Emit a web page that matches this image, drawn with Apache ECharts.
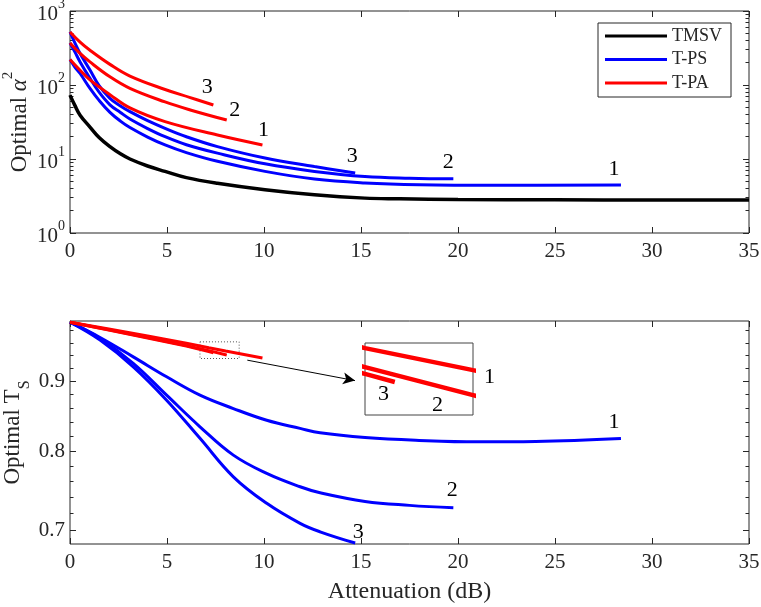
<!DOCTYPE html>
<html>
<head>
<meta charset="utf-8">
<script src="https://cdn.jsdelivr.net/npm/echarts@6/dist/echarts.min.js"></script>
<style>
    html, body { margin: 0; padding: 0; background: #fff; }
    #main { width: 761px; height: 607px; }
</style>
</head>
<body>
<div id="main"></div>
<script>
    // ---- top panel: optimal alpha^2 (log axis) ----
    var tmsvX = [0, 0.25, 0.52, 1.03, 1.5, 2.06, 2.6, 3.09, 4, 4.9, 6, 7.6, 10.05, 12.6, 15.2, 17, 20, 25, 30, 35];
    var tmsvA = [73, 53, 39, 27, 19.5, 14.7, 11.75, 10.0, 8.04, 6.8, 5.6, 4.7, 3.84, 3.28, 2.96, 2.9, 2.83, 2.81, 2.8, 2.8];

    var ps1X = [0, 0.25, 0.52, 1.03, 1.5, 2.06, 2.6, 3.09, 4, 4.9, 6, 7.6, 10.05, 12.6, 15.2, 18, 22, 28.4];
    var ps1A = [221, 175, 143, 90, 62, 42.7, 32.5, 26.6, 19.8, 15.5, 12.2, 9.3, 6.8, 5.35, 4.75, 4.5, 4.43, 4.45];
    var ps2X = [0, 0.25, 0.52, 1.03, 1.5, 2.06, 2.6, 3.09, 4, 4.9, 6, 7.6, 10.05, 12.6, 15.2, 17.5, 19.76];
    var ps2A = [370, 280, 205, 123, 80, 54, 42.5, 34.7, 25.8, 20, 15.6, 12, 8.6, 6.8, 5.8, 5.5, 5.4];
    var ps3X = [0, 0.25, 0.52, 1.03, 1.5, 2.06, 2.6, 3.09, 4, 4.9, 6, 7.6, 10.05, 12.6, 14.7];
    var ps3A = [521, 370, 267, 159, 98, 66, 52, 43.6, 33, 26, 20, 14.7, 10.3, 7.9, 6.45];

    var pa1X = [0, 0.52, 1.03, 2.06, 3.09, 4.9, 7.6, 9.92];
    var pa1A = [221, 158, 117, 74, 49, 32, 21.1, 15.5];
    var pa2X = [0, 0.52, 1.03, 2.06, 3.09, 4.9, 6.2, 8.08];
    var pa2A = [370, 267, 205, 129, 90, 59, 46, 33.6];
    var pa3X = [0, 0.52, 1.03, 2.06, 3.09, 4.9, 6.2, 7.39];
    var pa3A = [521, 380, 295, 190, 132, 87, 67.6, 53.6];

    // ---- bottom panel: optimal Ts (log axis) ----
    var ps1TX = [0, 1.55, 3.26, 4.98, 6.70, 8.42, 10.14, 11.86, 12.89, 15.21, 18, 21, 24, 28.4];
    var ps1T = [0.994, 0.9687, 0.9376, 0.9066, 0.8790, 0.8594, 0.8426, 0.8311, 0.8249, 0.8184, 0.8145, 0.8125, 0.813, 0.817];
    var ps2TX = [0, 1.55, 3.26, 4.98, 6.70, 8.42, 10.14, 11.86, 12.89, 15.21, 17.5, 19.76];
    var ps2T = [0.994, 0.9671, 0.9273, 0.879, 0.8334, 0.7945, 0.7704, 0.7533, 0.7457, 0.7349, 0.730, 0.727];
    var ps3TX = [0, 1.55, 3.26, 4.98, 6.70, 8.42, 10.14, 11.86, 12.89, 14.7];
    var ps3T = [0.994, 0.9644, 0.922, 0.8716, 0.8173, 0.766, 0.7325, 0.7082, 0.6982, 0.6851];

    var pa1TX = [0, 2, 4, 6, 7.15, 8.02, 9.92];
    var pa1T = [0.994, 0.9827, 0.9713, 0.9594, 0.952, 0.9468, 0.9357];
    var pa2TX = [0, 2, 4, 6, 7.15, 8.02, 8.08];
    var pa2T = [0.994, 0.9815, 0.9686, 0.9555, 0.9475, 0.9409, 0.9404];
    var pa3TX = [0, 2, 4, 6, 7.15, 7.39];
    var pa3T = [0.994, 0.981, 0.968, 0.9547, 0.9459, 0.944];

    // ticks
    var alphaMajor = [1, 10, 100, 1000];
    var alphaMinor = [2, 3, 4, 5, 6, 7, 8, 9, 20, 30, 40, 50, 60, 70, 80, 90, 200, 300, 400, 500, 600, 700, 800, 900];
    var tsMajor = [0.7, 0.8, 0.9];
    var tsMinor = [0.72, 0.74, 0.76, 0.78, 0.82, 0.84, 0.86, 0.88, 0.92, 0.94, 0.96, 0.98];

    var FONT = '"Liberation Serif", "DejaVu Serif", serif';
    var AXC = '#262626';

    function zip(xs, ys) {
        var out = [];
        for (var i = 0; i < xs.length; i++) {
            out.push([xs[i], ys[i]]);
        }
        return out;
    }

    function xAx(grid, pos, showLabel, name) {
        return {
            type: 'value', gridIndex: grid, position: pos, min: 0, max: 35, interval: 5,
            name: name || '', nameLocation: 'middle', nameGap: 36, nameMoveOverlap: false,
            nameTextStyle: {fontFamily: FONT, fontSize: 24, color: AXC},
            axisLine: {show: false},
            axisTick: {show: true, inside: true, length: 6, lineStyle: {color: AXC}},
            axisLabel: {show: showLabel, margin: 8, fontFamily: FONT, fontSize: 21, color: AXC},
            splitLine: {show: false}
        };
    }

    function yAx(grid, pos, min, max, ticks, len, label, name, rich, gap) {
        return {
            type: 'log', logBase: 10, gridIndex: grid, position: pos, min: min, max: max,
            name: name || '', nameLocation: 'middle', nameGap: gap || 40, nameRotate: 90,
            nameMoveOverlap: false,
            nameTextStyle: {fontFamily: FONT, fontSize: 23, color: AXC, rich: rich || {}},
            axisLine: {show: false},
            axisTick: {show: true, inside: true, length: len, customValues: ticks, lineStyle: {color: AXC}},
            axisLabel: label ? label : {show: false},
            splitLine: {show: false}
        };
    }

    var alphaLabel = {
        show: true, customValues: alphaMajor, margin: 5, fontFamily: FONT, color: AXC,
        formatter: function (v) {
            return '{b|10}{s|' + Math.round(Math.log(v) / Math.LN10) + '}';
        },
        rich: {
            b: {fontFamily: FONT, fontSize: 21, color: AXC, lineHeight: 28, verticalAlign: 'bottom'},
            s: {fontFamily: FONT, fontSize: 14, color: AXC, lineHeight: 14, verticalAlign: 'top'}
        }
    };
    var tsLabel = {
        show: true, customValues: tsMajor, margin: 5, fontFamily: FONT, fontSize: 21, color: AXC,
        formatter: function (v) { return v.toFixed(1); }
    };

    function line(name, data, color, xi, yi, w, lbl, off) {
        var s = {
            name: name, type: 'line', xAxisIndex: xi, yAxisIndex: yi, data: data,
            showSymbol: false, symbol: 'none', smooth: 0.4,
            lineStyle: {color: color, width: w}, itemStyle: {color: color},
            clip: true, silent: true
        };
        if (lbl) {
            s.endLabel = {
                show: true, formatter: lbl, color: '#000', fontFamily: FONT, fontSize: 22,
                align: 'center', verticalAlign: 'middle', distance: 0, offset: off
            };
        }
        return s;
    }

    var myChart = echarts.init(document.getElementById('main'), null, {renderer: 'canvas'});

    var series = [
        line('TMSV', zip(tmsvX, tmsvA), '#000000', 0, 0, 3.5),
        line('T-PS', zip(ps1X, ps1A), '#0000FF', 0, 0, 3, '1', [-7, -16]),
        line('T-PS', zip(ps2X, ps2A), '#0000FF', 0, 0, 3, '2', [-5, -17]),
        line('T-PS', zip(ps3X, ps3A), '#0000FF', 0, 0, 3, '3', [-3, -17]),
        line('T-PA', zip(pa1X, pa1A), '#FF0000', 0, 0, 3, '1', [1, -15]),
        line('T-PA', zip(pa2X, pa2A), '#FF0000', 0, 0, 3, '2', [8, -10]),
        line('T-PA', zip(pa3X, pa3A), '#FF0000', 0, 0, 3, '3', [-6, -18]),

        line('T-PS', zip(ps1TX, ps1T), '#0000FF', 2, 4, 3, '1', [-7, -16]),
        line('T-PS', zip(ps2TX, ps2T), '#0000FF', 2, 4, 3, '2', [-1, -18]),
        line('T-PS', zip(ps3TX, ps3T), '#0000FF', 2, 4, 3, '3', [3, -11]),
        line('T-PA', zip(pa3TX, pa3T), '#FF0000', 2, 4, 3),
        line('T-PA', zip(pa2TX, pa2T), '#FF0000', 2, 4, 3),
        line('T-PA', zip(pa1TX, pa1T), '#FF0000', 2, 4, 3),

        // inset
        line('T-PA', zip(pa1TX, pa1T), '#FF0000', 4, 8, 4.5),
        line('T-PA', zip(pa2TX, pa2T), '#FF0000', 4, 8, 4.5),
        line('T-PA', zip(pa3TX, pa3T), '#FF0000', 4, 8, 4.5)
    ];

    // dotted zoom box and arrow to the inset
    series[12].markArea = {
        silent: true,
        itemStyle: {color: 'rgba(0,0,0,0)', borderColor: '#555', borderWidth: 1, borderType: [1, 2]},
        data: [[{coord: [6.7, 0.9616]}, {coord: [8.72, 0.935]}]]
    };
    series[12].markLine = {
        silent: true, symbol: ['none', 'arrow'], symbolSize: [9, 12],
        lineStyle: {color: '#000', width: 1, type: 'solid'},
        label: {show: false},
        data: [[{coord: [9.14, 0.9324]}, {coord: [14.69, 0.9008]}]]
    };
    for (var k = 10; k < 16; k++) {
        series[k].smooth = false;
        if (k >= 13) {
            series[k].z = 6;
        }
    }

    var option = {
        animation: false,
        backgroundColor: '#fff',
        textStyle: {fontFamily: FONT},
        grid: [
            {left: 70, right: 12, top: 11, height: 222, outerBoundsMode: 'none', containLabel: false,
                show: true, borderColor: AXC, borderWidth: 1, backgroundColor: 'transparent'},
            {left: 70, right: 12, top: 321, height: 223, outerBoundsMode: 'none', containLabel: false,
                show: true, borderColor: AXC, borderWidth: 1, backgroundColor: 'transparent'},
            {left: 365, top: 343, width: 108, height: 72, outerBoundsMode: 'none', containLabel: false,
                show: true, borderColor: '#444', borderWidth: 1, backgroundColor: 'transparent'}
        ],
        legend: {
            data: ['TMSV', 'T-PS', 'T-PA'],
            orient: 'vertical', left: 598, top: 23,
            padding: [4, 9, 5, 7], itemGap: 5.5,
            itemWidth: 62, itemHeight: 3, icon: 'rect',
            backgroundColor: '#fff', borderColor: AXC, borderWidth: 1, borderRadius: 0,
            textStyle: {fontFamily: FONT, fontSize: 18, color: AXC},
            selectedMode: false
        },
        xAxis: [
            xAx(0, 'bottom', true),
            xAx(0, 'top', false),
            xAx(1, 'bottom', true, 'Attenuation (dB)'),
            xAx(1, 'top', false),
            {type: 'value', gridIndex: 2, min: 7.15, max: 8.02, show: false}
        ],
        yAxis: [
            yAx(0, 'left', 1, 1000, alphaMajor, 6, alphaLabel, '{m|Optimal }{i|α}{s|2}', {
                m: {fontFamily: FONT, fontSize: 23, color: AXC, lineHeight: 30, verticalAlign: 'bottom'},
                i: {fontFamily: FONT, fontSize: 23, fontStyle: 'italic', color: AXC, lineHeight: 30, verticalAlign: 'bottom'},
                s: {fontFamily: FONT, fontSize: 15, color: AXC, lineHeight: 15, verticalAlign: 'top'}
            }, 39),
            yAx(0, 'left', 1, 1000, alphaMinor, 3.5),
            yAx(0, 'right', 1, 1000, alphaMajor, 6),
            yAx(0, 'right', 1, 1000, alphaMinor, 3.5),
            yAx(1, 'left', 0.684, 0.996, tsMajor, 6, tsLabel, '{m|Optimal T}{sub|S}', {
                m: {fontFamily: FONT, fontSize: 23, color: AXC, lineHeight: 32, verticalAlign: 'top'},
                sub: {fontFamily: FONT, fontSize: 16, color: AXC, lineHeight: 16, verticalAlign: 'bottom'}
            }, 37),
            yAx(1, 'left', 0.684, 0.996, tsMinor, 3.5),
            yAx(1, 'right', 0.684, 0.996, tsMajor, 6),
            yAx(1, 'right', 0.684, 0.996, tsMinor, 3.5),
            {type: 'value', gridIndex: 2, min: 0.9362, max: 0.9532, show: false}
        ],
        graphic: [
            {type: 'text', left: 484, top: 366, z: 10, style: {text: '1', font: '22px ' + FONT, fill: '#000'}},
            {type: 'text', left: 432, top: 394, z: 10, style: {text: '2', font: '22px ' + FONT, fill: '#000'}},
            {type: 'text', left: 378, top: 383, z: 10, style: {text: '3', font: '22px ' + FONT, fill: '#000'}}
        ],
        series: series
    };
    myChart.setOption(option);
</script>
</body>
</html>
